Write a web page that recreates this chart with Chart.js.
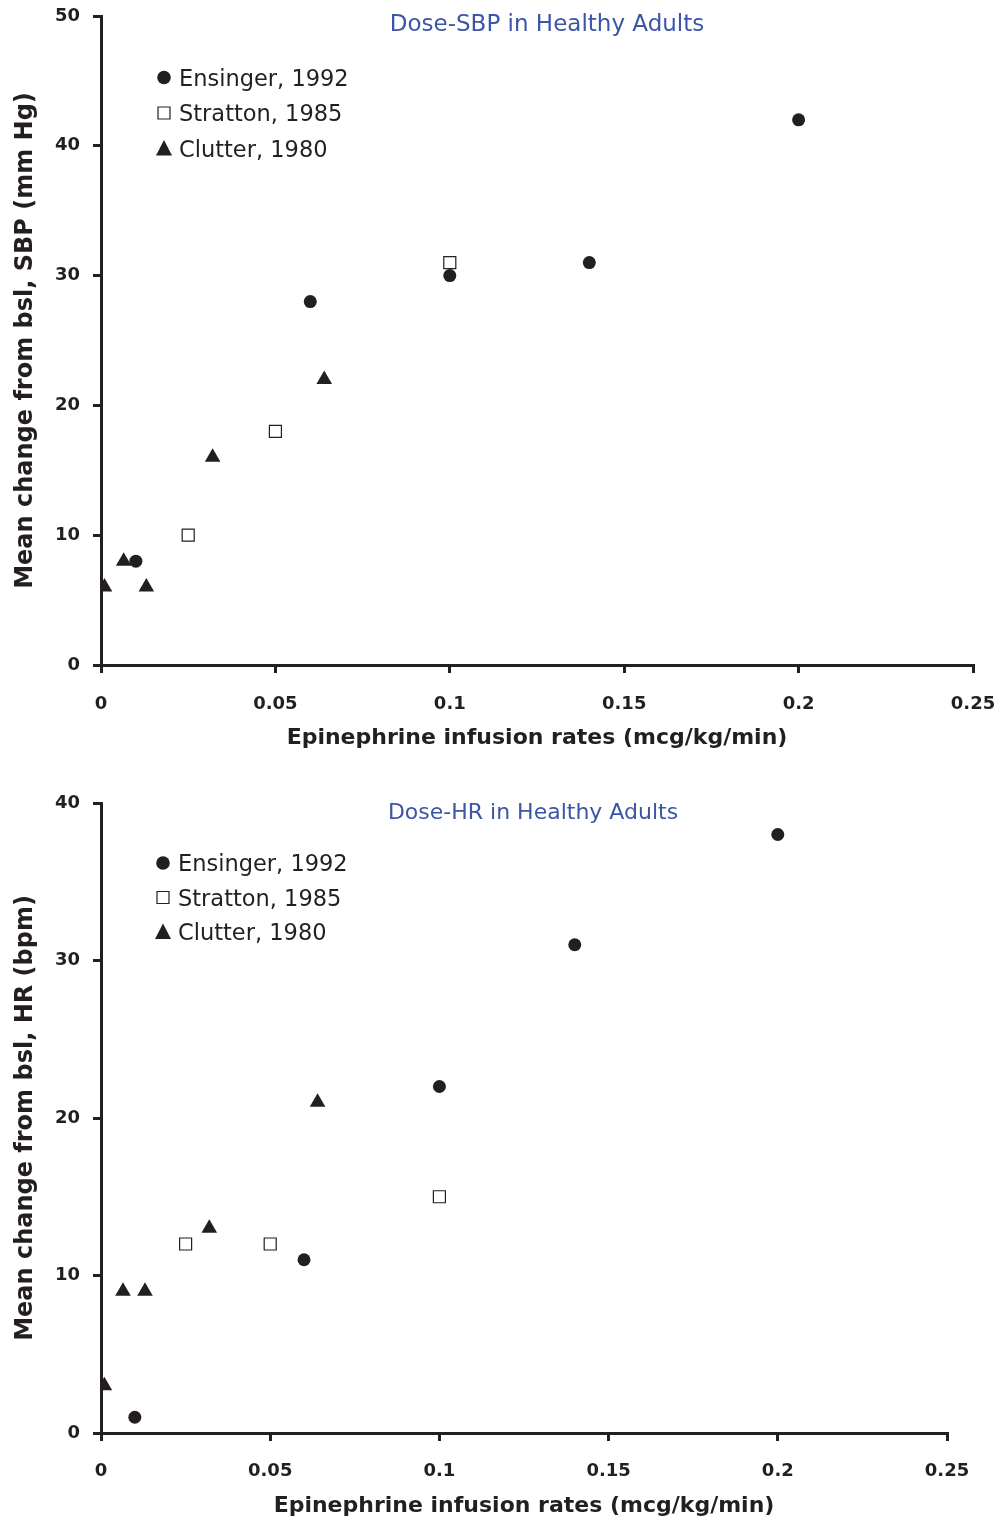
<!DOCTYPE html>
<html>
<head>
<meta charset="utf-8">
<script src="https://cdn.jsdelivr.net/npm/chart.js@4.4.1/dist/chart.umd.min.js"></script>
<style>
  html, body { margin: 0; padding: 0; background: #fff; }
  #wrap { position: relative; width: 1000px; height: 1523px; }
  #sbpChart { position: absolute; left: 0; top: 0; }
  #hrChart { position: absolute; left: 0; top: 770px; }
</style>
</head>
<body>
<div id="wrap">
  <canvas id="sbpChart" width="1000" height="770"></canvas>
  <canvas id="hrChart" width="1000" height="753"></canvas>
</div>
<script>
// Doses (mcg/kg/min) per study
const ensingerDose = [0.01, 0.06, 0.1, 0.14, 0.2];
const strattonDose = [0.025, 0.05, 0.1];
const clutterDose = [0.001, 0.0065, 0.013, 0.032, 0.064];

// SBP change (mm Hg)
const sbpEnsinger = [8, 28, 30, 31, 42];
const sbpStratton = [10, 18, 31];
const sbpClutter = [6, 8, 6, 16, 22];

// HR change (bpm)
const hrEnsinger = [1, 11, 22, 31, 38];
const hrStratton = [12, 12, 15];
const hrClutter = [3, 9, 9, 13, 21];

const studyLabels = ['Ensinger, 1992', 'Stratton, 1985', 'Clutter, 1980'];
const xTickLabels = ['0', '0.05', '0.1', '0.15', '0.2', '0.25'];
const sbpTickLabels = ['0', '10', '20', '30', '40', '50'];
const hrTickLabels = ['0', '10', '20', '30', '40'];

const INK = '#231f20';
Chart.defaults.font.family = '"DejaVu Sans", sans-serif';
Chart.defaults.color = INK;

function toPoints(xs, ys) {
  return xs.map((x, i) => ({ x: x, y: ys[i] }));
}

// draws one legend marker, same shapes as the datasets
function drawMarker(ctx, style, x, y) {
  ctx.save();
  ctx.fillStyle = INK;
  ctx.strokeStyle = INK;
  ctx.lineWidth = 1.2;
  ctx.beginPath();
  if (style === 'circle') {
    ctx.arc(x, y, 6.8, 0, Math.PI * 2);
    ctx.fill();
  } else if (style === 'rect') {
    ctx.fillStyle = '#fff';
    ctx.rect(x - 6, y - 6, 12, 12);
    ctx.fill();
    ctx.stroke();
  } else {
    ctx.moveTo(x, y - 8.5);
    ctx.lineTo(x + 8, y + 7);
    ctx.lineTo(x - 8, y + 7);
    ctx.closePath();
    ctx.fill();
  }
  ctx.restore();
}

// title + legend inside the plot area
const overlayPlugin = {
  id: 'overlay',
  afterDraw(chart, args, o) {
    const ctx = chart.ctx;
    const a = chart.chartArea;
    ctx.save();
    ctx.font = o.titleSize + 'px "DejaVu Sans"';
    ctx.fillStyle = '#3d55a7';
    ctx.textAlign = 'center';
    ctx.textBaseline = 'alphabetic';
    ctx.fillText(o.title, (a.left + a.right) / 2 + o.titleDx, a.top + o.titleDy);

    ctx.font = '22.5px "DejaVu Sans"';
    ctx.fillStyle = INK;
    ctx.textAlign = 'left';
    chart.data.datasets.forEach((ds, i) => {
      const y = a.top + o.legendTop + i * o.legendGap;
      const mx = a.left + o.legendDx;
      drawMarker(ctx, ds.pointStyle, mx, y);
      ctx.fillText(ds.label, mx + 15, y + 8);
    });
    ctx.restore();
  }
};

function makeChart(id, cfg) {
  const datasets = [
    {
      label: studyLabels[0],
      data: toPoints(ensingerDose, cfg.ensinger),
      pointStyle: 'circle',
      pointRadius: 6.5,
      pointBorderWidth: 0,
      backgroundColor: INK,
      borderColor: INK
    },
    {
      label: studyLabels[1],
      data: toPoints(strattonDose, cfg.stratton),
      pointStyle: 'rect',
      pointRadius: 8.5,
      pointBorderWidth: 1.2,
      backgroundColor: '#fff',
      borderColor: INK
    },
    {
      label: studyLabels[2],
      data: toPoints(clutterDose, cfg.clutter),
      pointStyle: 'triangle',
      pointRadius: 9,
      pointBorderWidth: 0,
      backgroundColor: INK,
      borderColor: INK
    }
  ];

  return new Chart(document.getElementById(id), {
    type: 'scatter',
    data: { datasets: datasets },
    plugins: [overlayPlugin],
    options: {
      responsive: false,
      animation: false,
      events: [],
      layout: { padding: { left: 0, top: cfg.padTop, right: cfg.padRight, bottom: 0 } },
      plugins: {
        legend: { display: false },
        tooltip: { enabled: false },
        overlay: cfg.overlay
      },
      scales: {
        x: {
          type: 'linear',
          min: 0,
          max: 0.25,
          afterFit: s => {
            s.height = cfg.xHeight;
            s.paddingLeft = 0;
            s.paddingRight = 0;
          },
          border: { color: INK, width: 3 },
          grid: { drawOnChartArea: false, drawTicks: true, tickLength: 8, lineWidth: 3, color: INK },
          ticks: {
            stepSize: 0.05,
            padding: cfg.xTickPad,
            font: { size: 18, weight: 'bold' },
            color: INK,
            callback: (v, i) => xTickLabels[i]
          },
          title: {
            display: true,
            text: 'Epinephrine infusion rates (mcg/kg/min)',
            font: { size: 22, weight: 'bold' },
            color: INK,
            padding: { top: 0, bottom: cfg.xTitlePad }
          }
        },
        y: {
          type: 'linear',
          min: 0,
          max: cfg.yMax,
          afterFit: s => {
            s.width = 101;
            s.paddingTop = 0;
            s.paddingBottom = 0;
          },
          border: { color: INK, width: 3 },
          grid: { drawOnChartArea: false, drawTicks: true, tickLength: 8, lineWidth: 3, color: INK },
          ticks: {
            stepSize: 10,
            padding: 13,
            font: { size: 18, weight: 'bold' },
            color: INK,
            callback: (v, i) => cfg.yTicks[i]
          },
          title: {
            display: true,
            text: cfg.yTitle,
            font: { size: 24, weight: 'bold' },
            color: INK,
            padding: { top: 11, bottom: 0 }
          }
        }
      }
    }
  });
}

makeChart('sbpChart', {
  ensinger: sbpEnsinger,
  stratton: sbpStratton,
  clutter: sbpClutter,
  yMax: 50,
  yTicks: sbpTickLabels,
  yTitle: 'Mean change from bsl, SBP (mm Hg)',
  padTop: 16,
  padRight: 27,
  xHeight: 105,
  xTickPad: 21,
  xTitlePad: 19,
  overlay: { title: 'Dose-SBP in Healthy Adults', titleSize: 23, titleDx: 10, titleDy: 15, legendDx: 63, legendTop: 61.5, legendGap: 35.5 }
});

makeChart('hrChart', {
  ensinger: hrEnsinger,
  stratton: hrStratton,
  clutter: hrClutter,
  yMax: 40,
  yTicks: hrTickLabels,
  yTitle: 'Mean change from bsl, HR (bpm)',
  padTop: 33,
  padRight: 53,
  xHeight: 90,
  xTickPad: 20,
  xTitlePad: 4,
  overlay: { title: 'Dose-HR in Healthy Adults', titleSize: 22, titleDx: 9, titleDy: 16, legendDx: 62, legendTop: 60, legendGap: 34.5 }
});
</script>
</body>
</html>
